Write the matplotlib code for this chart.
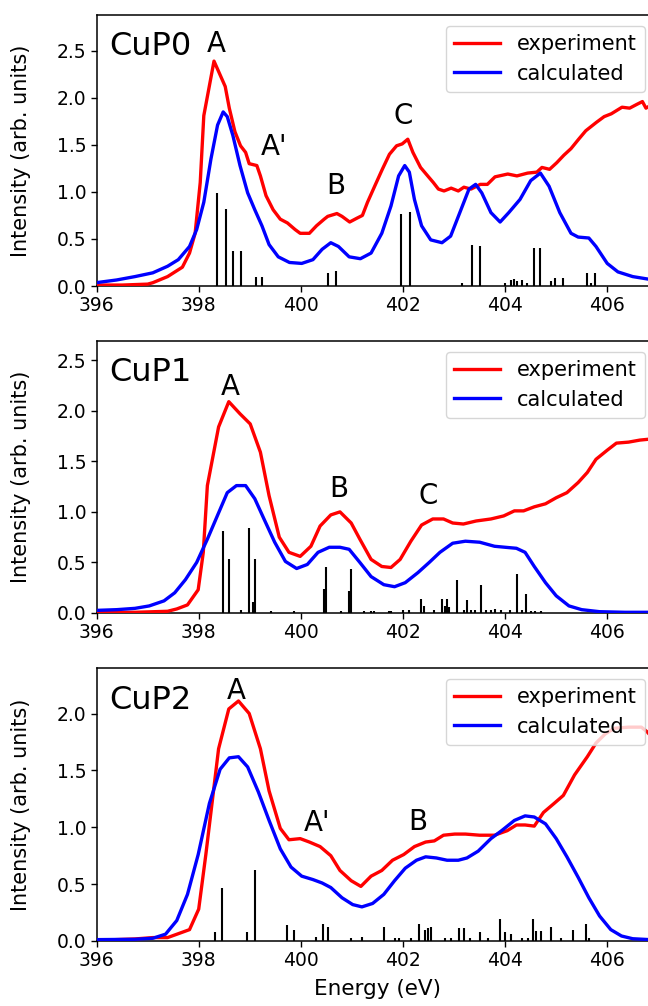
import matplotlib
matplotlib.use("Agg")
import matplotlib.pyplot as plt

# ---------------------------------------------------------------------------
# Data (energy in eV, intensity in arb. units)
# ---------------------------------------------------------------------------
# CuP0
exp0_e = [396.0, 396.5, 397.0, 397.1, 397.39, 397.68, 397.82, 397.93, 398.03, 398.10,
          398.30, 398.39, 398.52, 398.60, 398.71, 398.82, 398.92, 398.99, 399.14, 399.21,
          399.32, 399.46, 399.60, 399.74, 399.89, 399.99, 400.17, 400.31, 400.46, 400.53,
          400.71, 400.81, 400.96, 401.10, 401.21, 401.31, 401.45, 401.60, 401.74, 401.88,
          401.99, 402.10, 402.20, 402.35, 402.49, 402.60, 402.70, 402.81, 402.95, 403.09,
          403.20, 403.34, 403.52, 403.66, 403.81, 404.06, 404.24, 404.45, 404.63, 404.73,
          404.88, 405.02, 405.16, 405.30, 405.45, 405.59, 405.80, 405.95, 406.09, 406.30,
          406.45, 406.59, 406.70, 406.77, 406.86]
exp0_i = [0.01, 0.01, 0.02, 0.035, 0.10, 0.20, 0.35, 0.56, 1.10, 1.81,
          2.39, 2.28, 2.12, 1.89, 1.64, 1.49, 1.42, 1.30, 1.28, 1.17,
          0.96, 0.81, 0.71, 0.67, 0.60, 0.56, 0.56, 0.64, 0.71, 0.74,
          0.77, 0.74, 0.68, 0.72, 0.75, 0.89, 1.06, 1.24, 1.40, 1.49,
          1.51, 1.56, 1.42, 1.26, 1.17, 1.10, 1.03, 1.01, 1.04, 1.01,
          1.05, 1.03, 1.08, 1.08, 1.16, 1.19, 1.17, 1.20, 1.21, 1.26,
          1.24, 1.31, 1.39, 1.46, 1.56, 1.65, 1.74, 1.80, 1.83, 1.90,
          1.89, 1.93, 1.96, 1.89, 1.92]
calc0_e = [396.0, 396.39, 396.75, 397.10, 397.39, 397.60, 397.82, 397.96, 398.10, 398.24,
           398.37, 398.48, 398.56, 398.67, 398.81, 398.96, 399.10, 399.24, 399.38, 399.56,
           399.78, 400.02, 400.24, 400.42, 400.59, 400.74, 400.95, 401.17, 401.38, 401.59,
           401.77, 401.92, 402.04, 402.13, 402.23, 402.37, 402.55, 402.77, 402.94, 403.12,
           403.30, 403.43, 403.55, 403.73, 403.91, 404.08, 404.30, 404.51, 404.70, 404.87,
           405.08, 405.30, 405.44, 405.65, 405.79, 406.01, 406.22, 406.51, 406.85]
calc0_i = [0.036, 0.064, 0.10, 0.14, 0.21, 0.28, 0.42, 0.60, 0.89, 1.35,
           1.71, 1.85, 1.80, 1.60, 1.28, 0.99, 0.81, 0.64, 0.44, 0.31,
           0.25, 0.24, 0.28, 0.39, 0.46, 0.42, 0.31, 0.29, 0.35, 0.56,
           0.85, 1.17, 1.28, 1.21, 0.92, 0.64, 0.49, 0.46, 0.53, 0.78,
           1.03, 1.08, 0.99, 0.78, 0.68, 0.78, 0.92, 1.12, 1.20, 1.06,
           0.78, 0.56, 0.52, 0.51, 0.42, 0.24, 0.15, 0.10, 0.07]
stick0_e = [398.36, 398.53, 398.67, 398.83, 399.12, 399.24, 400.54, 400.69, 401.97, 402.14,
            403.17, 403.36, 403.51, 404.01, 404.12, 404.18, 404.25, 404.33, 404.44, 404.58,
            404.70, 404.90, 404.99, 405.15, 405.62, 405.70, 405.78]
stick0_i = [0.99, 0.82, 0.37, 0.37, 0.10, 0.10, 0.14, 0.16, 0.77, 0.79,
            0.03, 0.44, 0.42, 0.03, 0.06, 0.07, 0.05, 0.06, 0.03, 0.40,
            0.40, 0.05, 0.08, 0.08, 0.14, 0.03, 0.14]

# CuP1
exp1_e = [396.0, 396.75, 397.39, 397.57, 397.78, 397.99, 398.09, 398.17, 398.39, 398.59,
          398.81, 399.01, 399.21, 399.38, 399.58, 399.77, 399.99, 400.20, 400.38, 400.59,
          400.77, 400.99, 401.16, 401.38, 401.59, 401.77, 401.95, 402.16, 402.37, 402.59,
          402.80, 402.98, 403.19, 403.44, 403.73, 403.98, 404.19, 404.37, 404.58, 404.80,
          405.01, 405.22, 405.44, 405.62, 405.79, 406.01, 406.19, 406.43, 406.65, 406.85]
exp1_i = [0.007, 0.007, 0.017, 0.04, 0.08, 0.23, 0.60, 1.26, 1.84, 2.09,
          1.97, 1.87, 1.59, 1.16, 0.75, 0.60, 0.56, 0.66, 0.86, 0.97,
          1.00, 0.89, 0.73, 0.53, 0.46, 0.45, 0.53, 0.71, 0.87, 0.93,
          0.93, 0.89, 0.88, 0.91, 0.93, 0.96, 1.01, 1.01, 1.05, 1.08,
          1.14, 1.19, 1.29, 1.39, 1.52, 1.61, 1.68, 1.69, 1.71, 1.72]
calc1_e = [396.0, 396.39, 396.75, 397.03, 397.32, 397.53, 397.74, 397.96, 398.17, 398.39,
           398.56, 398.74, 398.92, 399.10, 399.28, 399.49, 399.70, 399.92, 400.13, 400.34,
           400.56, 400.77, 400.95, 401.16, 401.38, 401.63, 401.84, 402.05, 402.30, 402.52,
           402.73, 402.98, 403.23, 403.51, 403.80, 404.01, 404.23, 404.40, 404.58, 404.80,
           405.01, 405.26, 405.51, 405.86, 406.36, 406.85]
calc1_i = [0.026, 0.033, 0.046, 0.07, 0.12, 0.20, 0.33, 0.50, 0.73, 0.99,
           1.19, 1.26, 1.26, 1.13, 0.93, 0.70, 0.51, 0.44, 0.48, 0.60,
           0.65, 0.65, 0.63, 0.50, 0.36, 0.28, 0.26, 0.30, 0.40, 0.50,
           0.60, 0.69, 0.71, 0.70, 0.66, 0.65, 0.64, 0.60, 0.46, 0.30,
           0.17, 0.07, 0.033, 0.013, 0.007, 0.007]
stick1_e = [398.47, 398.60, 398.82, 398.98, 399.06, 399.10, 399.41, 399.87, 400.45, 400.49,
            400.79, 400.94, 400.98, 401.25, 401.38, 401.44, 401.74, 401.78, 402.00, 402.13,
            402.36, 402.41, 402.62, 402.77, 402.82, 402.86, 402.90, 403.06, 403.21, 403.27,
            403.34, 403.41, 403.54, 403.64, 403.74, 403.80, 403.93, 404.10, 404.25, 404.33,
            404.41, 404.52, 404.60, 404.71]
stick1_i = [0.81, 0.53, 0.026, 0.84, 0.11, 0.53, 0.02, 0.02, 0.24, 0.45,
            0.02, 0.22, 0.44, 0.02, 0.02, 0.02, 0.02, 0.02, 0.026, 0.033,
            0.14, 0.066, 0.033, 0.14, 0.066, 0.14, 0.06, 0.33, 0.033, 0.125,
            0.026, 0.033, 0.28, 0.026, 0.033, 0.04, 0.033, 0.033, 0.39, 0.026,
            0.19, 0.016, 0.016, 0.016]

# CuP2
exp2_e = [396.0, 396.75, 397.10, 397.39, 397.82, 398.0, 398.14, 398.39, 398.59, 398.78,
          398.99, 399.21, 399.38, 399.60, 399.77, 399.99, 400.17, 400.38, 400.59, 400.77,
          400.99, 401.18, 401.38, 401.59, 401.80, 402.02, 402.23, 402.45, 402.62, 402.80,
          403.02, 403.23, 403.51, 403.80, 404.05, 404.23, 404.40, 404.58, 404.76, 404.97,
          405.15, 405.37, 405.62, 405.79, 405.97, 406.15, 406.43, 406.68, 406.79, 406.85]
exp2_i = [0.006, 0.018, 0.03, 0.03, 0.10, 0.28, 0.76, 1.69, 2.04, 2.11,
          2.00, 1.69, 1.32, 0.99, 0.89, 0.90, 0.87, 0.83, 0.75, 0.62,
          0.53, 0.48, 0.57, 0.62, 0.71, 0.76, 0.83, 0.87, 0.88, 0.93,
          0.94, 0.94, 0.93, 0.93, 0.97, 1.02, 1.02, 1.01, 1.13, 1.21,
          1.28, 1.46, 1.62, 1.74, 1.82, 1.87, 1.88, 1.88, 1.84, 1.81]
calc2_e = [396.0, 396.75, 397.10, 397.35, 397.57, 397.78, 397.99, 398.21, 398.42, 398.60,
           398.78, 398.96, 399.17, 399.38, 399.60, 399.81, 400.02, 400.24, 400.42, 400.59,
           400.81, 401.02, 401.20, 401.41, 401.63, 401.84, 402.05, 402.27, 402.45, 402.66,
           402.87, 403.09, 403.26, 403.48, 403.73, 403.94, 404.19, 404.40, 404.58, 404.80,
           405.01, 405.22, 405.44, 405.65, 405.86, 406.08, 406.29, 406.51, 406.85]
calc2_i = [0.012, 0.015, 0.024, 0.06, 0.18, 0.41, 0.76, 1.21, 1.51, 1.61,
           1.62, 1.53, 1.31, 1.06, 0.81, 0.65, 0.57, 0.54, 0.51, 0.47,
           0.38, 0.32, 0.30, 0.33, 0.41, 0.53, 0.64, 0.71, 0.74, 0.73,
           0.71, 0.71, 0.73, 0.79, 0.90, 0.97, 1.06, 1.10, 1.09, 1.03,
           0.90, 0.74, 0.56, 0.38, 0.22, 0.10, 0.044, 0.02, 0.012]
stick2_e = [398.32, 398.45, 398.94, 399.10, 399.74, 399.87, 400.30, 400.43, 400.54, 400.98,
            401.21, 401.63, 401.84, 401.93, 402.16, 402.31, 402.43, 402.49, 402.56, 402.82,
            402.95, 403.11, 403.21, 403.31, 403.51, 403.67, 403.91, 404.01, 404.13, 404.33,
            404.46, 404.56, 404.62, 404.71, 404.90, 405.11, 405.34, 405.59, 405.65]
stick2_i = [0.08, 0.47, 0.08, 0.62, 0.14, 0.094, 0.035, 0.15, 0.12, 0.023,
            0.035, 0.12, 0.023, 0.023, 0.023, 0.15, 0.094, 0.117, 0.12, 0.023,
            0.023, 0.117, 0.117, 0.023, 0.08, 0.023, 0.19, 0.08, 0.06, 0.023,
            0.023, 0.19, 0.088, 0.088, 0.12, 0.023, 0.10, 0.15, 0.023]

names = ["CuP0", "CuP1", "CuP2"]
name_y = [2.46, 2.29, 2.04]
y_tops = [2.88, 2.69, 2.40]
y_ticks = [[0.0, 0.5, 1.0, 1.5, 2.0, 2.5],
           [0.0, 0.5, 1.0, 1.5, 2.0, 2.5],
           [0.0, 0.5, 1.0, 1.5, 2.0]]
x_ticks = [396, 398, 400, 402, 404, 406]

# peak labels: (text, energy, intensity) -- anchored at left/baseline
peak_labels = [
    [("A", 398.16, 2.49), ("A'", 399.21, 1.39), ("B", 400.50, 0.975), ("C", 401.82, 1.725)],
    [("A", 398.44, 2.16), ("B", 400.55, 1.15), ("C", 402.31, 1.08)],
    [("A", 398.56, 2.13), ("A'", 400.07, 0.97), ("B", 402.11, 0.98)],
]

curves = [(exp0_e, exp0_i, calc0_e, calc0_i, stick0_e, stick0_i),
          (exp1_e, exp1_i, calc1_e, calc1_i, stick1_e, stick1_i),
          (exp2_e, exp2_i, calc2_e, calc2_i, stick2_e, stick2_i)]

# axes placement in figure pixels (top, bottom); figure is 648 x 1006
W, H = 648, 1006
LEFT_PX, PX_PER_EV = 96.7, 51.0
panels_px = [(15, 286), (341, 613), (668, 941)]

fig = plt.figure(figsize=(W / 100, H / 100), dpi=100)

for k, (top, bot) in enumerate(panels_px):
    ax = fig.add_axes([LEFT_PX / W, 1 - bot / H, 11 * PX_PER_EV / W, (bot - top) / H])
    ee, ei, ce, ci, se, si = curves[k]
    ax.vlines(se, 0, si, color="black", lw=1.5, zorder=2)
    ax.plot(ee, ei, color="red", lw=2.4, label="experiment", zorder=3)
    ax.plot(ce, ci, color="blue", lw=2.4, label="calculated", zorder=3)

    ax.set_xlim(396, 407)
    ax.set_ylim(0, y_tops[k])
    ax.set_xticks(x_ticks)
    ax.set_yticks(y_ticks[k])
    ax.set_yticklabels([f"{v:.1f}" for v in y_ticks[k]])
    ax.tick_params(labelsize=13.5, width=1.0, length=4)
    for s in ax.spines.values():
        s.set_linewidth(1.1)

    ax.text(396.25, name_y[k], names[k], fontsize=23, ha="left", va="baseline")
    for txt, xe, yi in peak_labels[k]:
        ax.text(xe, yi, txt, fontsize=20, ha="left", va="baseline")

    leg_y = 1 - 11 / (bot - top)
    ax.legend(loc="upper right", bbox_to_anchor=((645 - LEFT_PX) / (11 * PX_PER_EV), leg_y),
              borderaxespad=0, fontsize=15, handlelength=2.2, labelspacing=0.45)

    fig.text(21 / W, 1 - (top + bot) / 2 / H, "Intensity (arb. units)", rotation=90,
             ha="center", va="center", fontsize=15)
    if k == 2:
        ax.set_xlabel("Energy (eV)", fontsize=15.5, labelpad=6)

fig.savefig("out.png", dpi=100)
